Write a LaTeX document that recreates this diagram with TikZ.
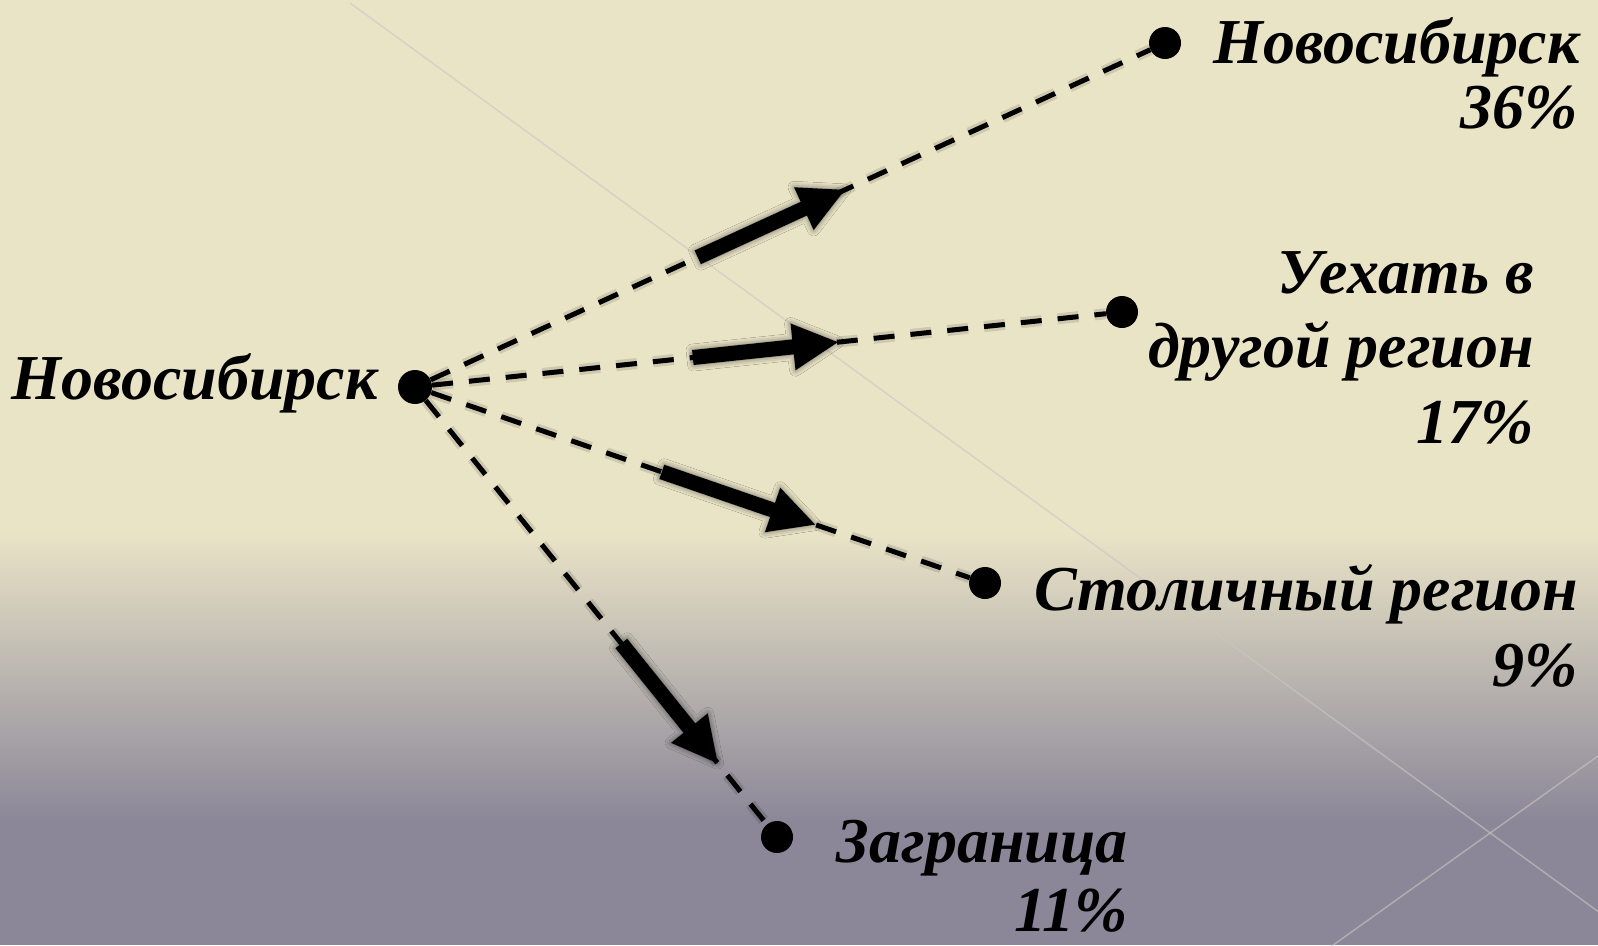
\documentclass[tikz,border=0pt]{standalone}
\usepackage{fontspec}
\setmainfont{Liberation Serif}
\usetikzlibrary{calc,shadows.blur}
\definecolor{cream}{HTML}{EAE4C7}
\definecolor{dusk}{HTML}{8B8798}
\definecolor{streak}{HTML}{C9C6C2}
\newcommand\fatarrow[2]{%
  \coordinate (#1hb) at ($(#2)!45pt!(#1)$);
  \fill[black, blur shadow={shadow xshift=0pt, shadow yshift=0pt, shadow blur radius=6pt, shadow opacity=55}]
    ($(#1)!7.5pt!90:(#2)$) -- ($(#1hb)!7.5pt!90:(#2)$) -- ($(#1hb)!23.5pt!90:(#2)$) --
    (#2) -- ($(#1hb)!23.5pt!-90:(#2)$) -- ($(#1hb)!7.5pt!-90:(#2)$) -- ($(#1)!7.5pt!-90:(#2)$) -- cycle;
}
\begin{document}
\begin{tikzpicture}[x=1pt,y=-1pt,
  lbl/.style={font=\fontsize{64}{68}\selectfont\bfseries\itshape, inner sep=0pt, anchor=base east},
  dot/.style={circle, fill=black, minimum size=32pt, inner sep=0pt},
  link/.style={line width=5pt, dash pattern=on 21pt off 16pt},
  halo/.style={line width=11pt, dash pattern=on 21pt off 16pt, black, opacity=0.12},
  streakline/.style={streak, line width=1.5pt, opacity=0.6}]
\useasboundingbox (0,0) rectangle (1598,945);
% background
\fill[cream] (0,0) rectangle (1598,531);
\shade[top color=cream, bottom color=dusk] (0,530) rectangle (1598,821);
\fill[dusk] (0,820) rectangle (1598,945);
\draw[streakline] (350,3) -- (1640,942);
\draw[streakline] (1329,948) -- (1640,726);
% dots
\node[dot, minimum size=34pt] (src) at (415,387) {};
\node[dot] (d1) at (1165,43) {};
\node[dot] (d2) at (1122,312) {};
\node[dot] (d3) at (985,583) {};
\node[dot] (d4) at (777,837) {};
% dashed links
\foreach \d in {d1,d2,d3,d4} {
  \draw[halo] (src) -- (\d);
  \draw[link] (src) -- (\d);
}
% thick arrows
\coordinate (a1s) at ($(src.center)!0.377!(d1.center)$);
\coordinate (a1e) at ($(src.center)!0.573!(d1.center)$);
\coordinate (a2s) at ($(src.center)!0.393!(d2.center)$);
\coordinate (a2e) at ($(src.center)!0.598!(d2.center)$);
\coordinate (a3s) at ($(src.center)!0.433!(d3.center)$);
\coordinate (a3e) at ($(src.center)!0.702!(d3.center)$);
\coordinate (a4s) at ($(src.center)!0.570!(d4.center)$);
\coordinate (a4e) at ($(src.center)!0.836!(d4.center)$);
\fatarrow{a1s}{a1e}
\fatarrow{a2s}{a2e}
\fatarrow{a3s}{a3e}
\fatarrow{a4s}{a4e}
% labels
\node[lbl] (lsrc) at (378,399) {Новосибирск};
\node[lbl] (l1a) at (1580,63) {Новосибирск};
\node[lbl] (l1b) at (1578,128) {36\%};
\node[lbl] (l2a) at (1534,293) {Уехать в};
\node[lbl] (l2b) at (1534,367) {другой регион};
\node[lbl] (l2c) at (1534,443) {17\%};
\node[lbl] (l3a) at (1578,610) {Столичный регион};
\node[lbl] (l3b) at (1578,686) {9\%};
\node[lbl] (l4a) at (1128,862) {Заграница};
\node[lbl, text depth=0pt] (l4b) at (1128,931) {11\%};
\end{tikzpicture}
\end{document}
